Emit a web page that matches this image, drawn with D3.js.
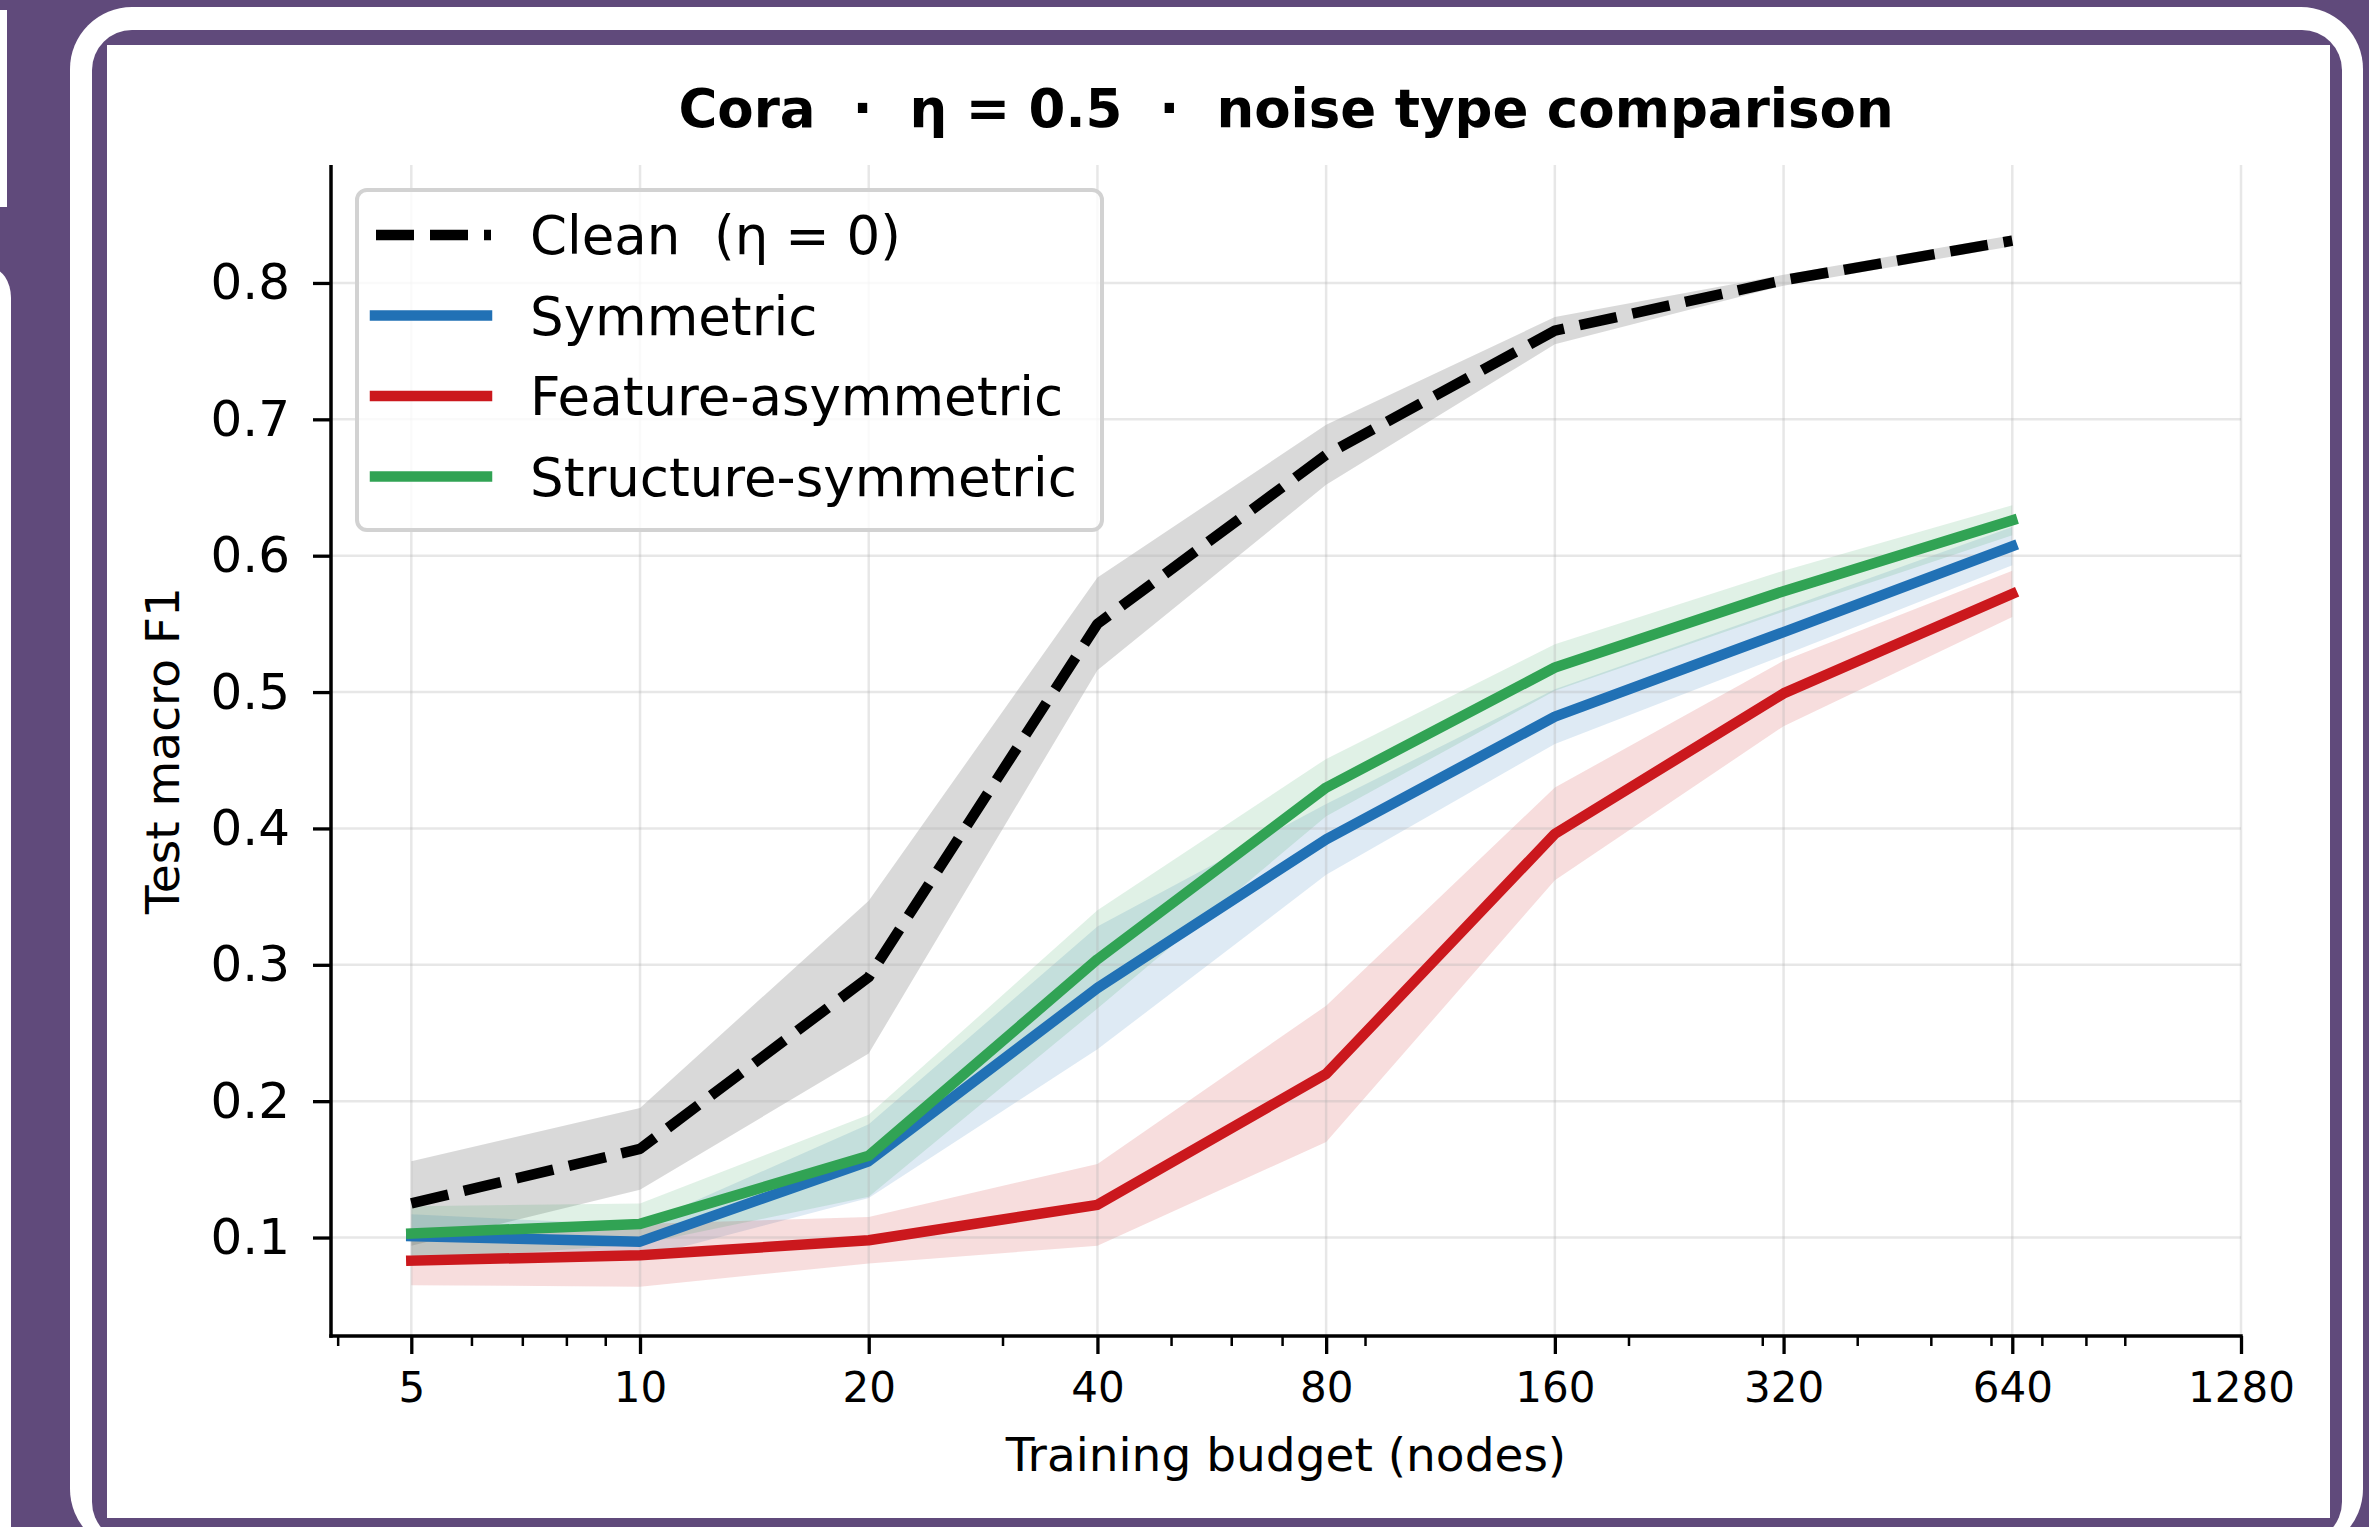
<!DOCTYPE html>
<html>
<head>
<meta charset="utf-8">
<script src="https://cdn.jsdelivr.net/npm/d3@7"></script>
<style>
  body { margin: 0; background: #604a7b; }
  svg { display: block; }
  text { white-space: pre; }
</style>
</head>
<body>
<div id="chart-area"></div>
<script>
// ---- data ----
var budgets = [5, 10, 20, 40, 80, 160, 320, 640]

var cleanMean  = [0.125, 0.165, 0.291, 0.550, 0.674, 0.765, 0.802, 0.831]
var cleanStd   = [0.031, 0.030, 0.056, 0.034, 0.022, 0.010, 0.004, 0.004]
var symMean    = [0.101, 0.097, 0.156, 0.283, 0.392, 0.482, 0.544, 0.607]
var symStd     = [0.016, 0.012, 0.027, 0.045, 0.026, 0.020, 0.017, 0.014]
var featMean   = [0.083, 0.087, 0.098, 0.124, 0.220, 0.396, 0.499, 0.572]
var featStd    = [0.018, 0.023, 0.017, 0.030, 0.050, 0.034, 0.024, 0.017]
var structMean = [0.103, 0.110, 0.160, 0.304, 0.430, 0.518, 0.574, 0.626]
var structStd  = [0.020, 0.015, 0.030, 0.036, 0.021, 0.017, 0.015, 0.011]

var seriesNames  = ['Clean  (η = 0)', 'Symmetric', 'Feature-asymmetric', 'Structure-symmetric']
var seriesColors = ['#000000', '#2171b5', '#cb181d', '#31a354']

var xTicks      = [5, 10, 20, 40, 80, 160, 320, 640, 1280]
var xMinorTicks = [4, 6, 7, 8, 9, 30, 50, 60, 70, 90, 200, 300, 400, 500, 600, 700, 800, 900]
var yTicks      = [0.1, 0.2, 0.3, 0.4, 0.5, 0.6, 0.7, 0.8]

var titleText = 'Cora  ·  η = 0.5  ·  noise type comparison'
var xLabel = 'Training budget (nodes)'
var yLabel = 'Test macro F1'

// table the drawing code works from
var means = [cleanMean, symMean, featMean, structMean]
var stds  = [cleanStd, symStd, featStd, structStd]
var series = seriesNames.map(function(name, i){
	return {
		name: name,
		color: seriesColors[i],
		dashed: i == 0,
		points: budgets.map(function(b, j){
			return {x: b, y: means[i][j], lo: means[i][j] - stds[i][j], hi: means[i][j] + stds[i][j]}
		})
	}
})

// ---- svg + the purple/white frame ----
var W = 2369, H = 1527
var purple = '#604a7b'
var font = '"DejaVu Sans", Verdana, sans-serif'

var svg = d3.select('#chart-area').append('svg')
	.attr('width', W)
	.attr('height', H)

svg.append('rect').attr('width', W).attr('height', H).attr('fill', purple)
// bits of white at the far left edge
svg.append('rect').attr('x', 0).attr('y', 10).attr('width', 7).attr('height', 197).attr('fill', '#fff')
svg.append('rect').attr('x', -30).attr('y', 268).attr('width', 41).attr('height', 1400).attr('rx', 30).attr('fill', '#fff')
// rounded white border, then inner purple, then the white page
svg.append('rect').attr('x', 70).attr('y', 7).attr('width', 2293).attr('height', 1544).attr('rx', 62).attr('fill', '#fff')
svg.append('rect').attr('x', 92).attr('y', 30).attr('width', 2250).attr('height', 1512).attr('rx', 40).attr('fill', purple)
svg.append('rect').attr('x', 107).attr('y', 45).attr('width', 2223).attr('height', 1473).attr('fill', '#fff')

// ---- plot area ----
var margin = {left: 331, top: 165, right: W - 2241, bottom: H - 1336}
var width = 2241 - 331
var height = 1336 - 165

var group = svg.append('g')
	.attr('transform', 'translate(' + margin.left + ',' + margin.top + ')')

var xScale = d3.scaleLog()
	.domain([3.92, 1280])
	.range([0, width])

var yScale = d3.scaleLinear()
	.domain([0.0278, 0.8865])
	.range([height, 0])

// bands first (under everything)
var area = d3.area()
	.x(function(d){ return xScale(d.x) })
	.y0(function(d){ return yScale(d.lo) })
	.y1(function(d){ return yScale(d.hi) })

group.selectAll('.band')
	.data(series)
	.enter()
	.append('path')
	.attr('class', 'band')
	.attr('d', function(d){ return area(d.points) })
	.attr('fill', function(d){ return d.color })
	.attr('fill-opacity', 0.15)

// grid
group.append('g').selectAll('line')
	.data(xTicks)
	.enter()
	.append('line')
	.attr('x1', function(d){ return xScale(d) })
	.attr('x2', function(d){ return xScale(d) })
	.attr('y1', 0)
	.attr('y2', height)
	.attr('stroke', '#b0b0b0')
	.attr('stroke-opacity', 0.3)
	.attr('stroke-width', 2.5)

group.append('g').selectAll('line')
	.data(yTicks)
	.enter()
	.append('line')
	.attr('x1', 0)
	.attr('x2', width)
	.attr('y1', function(d){ return yScale(d) })
	.attr('y2', function(d){ return yScale(d) })
	.attr('stroke', '#b0b0b0')
	.attr('stroke-opacity', 0.3)
	.attr('stroke-width', 2.5)

// lines
var line = d3.line()
	.x(function(d){ return xScale(d.x) })
	.y(function(d){ return yScale(d.y) })

group.selectAll('.series-line')
	.data(series)
	.enter()
	.append('path')
	.attr('class', 'series-line')
	.attr('d', function(d){ return line(d.points) })
	.attr('fill', 'none')
	.attr('stroke', function(d){ return d.color })
	.attr('stroke-width', 10.5)
	.attr('stroke-linejoin', 'round')
	.attr('stroke-linecap', function(d){ return d.dashed ? 'butt' : 'square' })
	.attr('stroke-dasharray', function(d){ return d.dashed ? '38,16' : null })

// x axis: major + minor ticks
var xAxis = d3.axisBottom(xScale)
	.tickValues(xTicks)
	.tickFormat(d3.format('d'))
	.tickSize(18)
	.tickSizeOuter(0)
	.tickPadding(18)

var xg = group.append('g')
	.attr('transform', 'translate(0,' + height + ')')
	.call(xAxis)

var xMinor = d3.axisBottom(xScale)
	.tickValues(xMinorTicks)
	.tickFormat('')
	.tickSize(10)
	.tickSizeOuter(0)

var xmg = group.append('g')
	.attr('transform', 'translate(0,' + height + ')')
	.call(xMinor)
xmg.select('.domain').remove()
xmg.selectAll('.tick line').attr('stroke-width', 2.5).attr('stroke', '#000')

// y axis
var yAxis = d3.axisLeft(yScale)
	.tickValues(yTicks)
	.tickFormat(d3.format('.1f'))
	.tickSize(18)
	.tickSizeOuter(0)
	.tickPadding(23)

var yg = group.append('g').call(yAxis)

// axis styling
xg.select('.domain').attr('stroke-width', 3.5).attr('d', 'M-1.75,0H' + (width + 1.75))
yg.select('.domain').attr('stroke-width', 3.5).attr('d', 'M0,' + (height + 1.75) + 'V0')
xg.selectAll('.tick line').attr('stroke-width', 3.3)
yg.selectAll('.tick line').attr('stroke-width', 3.3)
xg.selectAll('.tick text').attr('font-family', font).attr('font-size', 42).attr('fill', '#000')
yg.selectAll('.tick text').attr('font-family', font).attr('font-size', 50).attr('fill', '#000')

// axis labels
group.append('text')
	.attr('x', width / 2)
	.attr('y', 1471 - margin.top)
	.attr('text-anchor', 'middle')
	.attr('font-family', font)
	.attr('font-size', 47)
	.attr('fill', '#000')
	.text(xLabel)

group.append('text')
	.attr('transform', 'translate(' + (179 - margin.left) + ',' + (height / 2) + ') rotate(-90)')
	.attr('text-anchor', 'middle')
	.attr('font-family', font)
	.attr('font-size', 47)
	.attr('fill', '#000')
	.text(yLabel)

// title
group.append('text')
	.attr('x', width / 2)
	.attr('y', 127 - margin.top)
	.attr('text-anchor', 'middle')
	.attr('font-family', font)
	.attr('font-weight', 'bold')
	.attr('font-size', 53)
	.attr('fill', '#000')
	.text(titleText)

// ---- legend ----
var legend_group = group.append('g')
	.attr('transform', 'translate(' + (357 - margin.left) + ',' + (190 - margin.top) + ')')

legend_group.append('rect')
	.attr('x', 0)
	.attr('y', 0)
	.attr('width', 745)
	.attr('height', 340)
	.attr('rx', 10)
	.attr('fill', '#fff')
	.attr('fill-opacity', 0.8)
	.attr('stroke', '#d2d2d2')
	.attr('stroke-width', 4)

var rowY = function(i){ return 45 + 80.5 * i }

legend_group.selectAll('line')
	.data(series)
	.enter()
	.append('line')
	.attr('x1', function(d){ return d.dashed ? 19 : 18 })
	.attr('x2', function(d){ return d.dashed ? 134 : 130 })
	.attr('y1', function(d, i){ return rowY(i) })
	.attr('y2', function(d, i){ return rowY(i) })
	.attr('stroke', function(d){ return d.color })
	.attr('stroke-width', 10.5)
	.attr('stroke-linecap', function(d){ return d.dashed ? 'butt' : 'square' })
	.attr('stroke-dasharray', function(d){ return d.dashed ? '38,16' : null })

legend_group.selectAll('text')
	.data(series)
	.enter()
	.append('text')
	.attr('x', 173)
	.attr('y', function(d, i){ return rowY(i) + 19 })
	.attr('font-family', font)
	.attr('font-size', 53)
	.attr('fill', '#000')
	.text(function(d){ return d.name })
</script>
</body>
</html>
